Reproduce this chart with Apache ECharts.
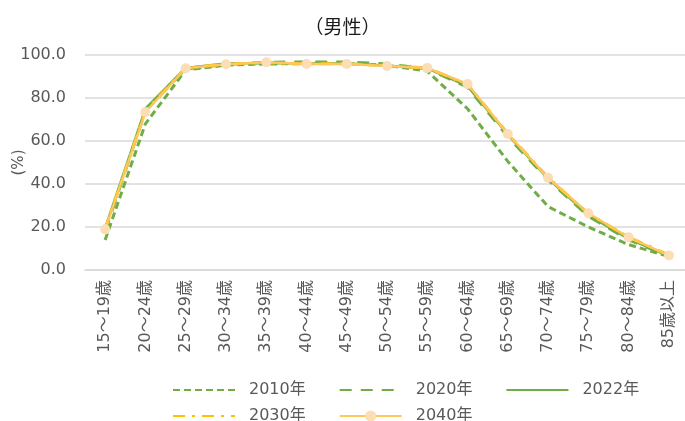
<!DOCTYPE html>
<html>
<head>
<meta charset="utf-8">
<script src="https://cdn.jsdelivr.net/npm/echarts@6/dist/echarts.min.js"></script>
<style>
  html, body { margin: 0; padding: 0; background: #fff; }
  #chart { width: 685px; height: 421px; }
</style>
</head>
<body>
<div id="chart"></div>
<script>
// Age groups (male labour force participation rate, %)
const ageGroups = ['15～19歳', '20～24歳', '25～29歳', '30～34歳', '35～39歳', '40～44歳', '45～49歳',
  '50～54歳', '55～59歳', '60～64歳', '65～69歳', '70～74歳', '75～79歳', '80～84歳', '85歳以上'];

const rate2010 = [14.0, 68.0, 93.0, 95.3, 95.8, 96.0, 96.0, 95.2, 92.5, 75.0, 50.5, 29.5, 20.0, 11.8, 6.3];
const rate2020 = [18.0, 74.0, 93.5, 95.6, 96.6, 96.8, 96.8, 95.8, 93.6, 85.0, 62.0, 42.0, 25.0, 14.0, 6.5];
const rate2022 = [19.5, 75.0, 94.0, 96.0, 96.3, 96.1, 96.0, 95.0, 93.8, 85.5, 63.0, 42.5, 25.5, 14.5, 6.5];
const rate2030 = [19.0, 74.0, 94.0, 95.8, 96.4, 95.9, 95.9, 95.0, 94.0, 86.3, 63.5, 43.0, 26.2, 15.3, 7.0];
const rate2040 = [18.9, 73.5, 93.8, 95.7, 96.6, 95.8, 95.8, 94.9, 94.0, 86.5, 63.3, 42.9, 26.4, 15.2, 6.8];

const legendRow1 = ['2010年', '2020年', '2022年'];
const legendRow2 = ['2030年', '2040年'];
// series drawn with markers in the legend
const markedSeries = ['2040年'];

const yTicks = { min: 0, max: 100, interval: 20 };

const font = '"DejaVu Sans", "Noto Sans CJK JP", sans-serif';
const cjkFont = '"Noto Sans CJK JP", sans-serif';
const green = '#70AD47';
const gold = '#FFC000';
const lightGold = '#FFC75A';
const peach = '#FCDDB4';
const grey = '#595959';

function lineSeries(name, data, color, type, width, extra) {
  return Object.assign({
    name: name,
    type: 'line',
    data: data,
    symbol: 'none',
    smooth: false,
    lineStyle: { color: color, width: width, type: type, cap: 'butt' },
    itemStyle: { color: color },
    emphasis: { disabled: true }
  }, extra || {});
}

function legendRow(names, top) {
  return {
    left: 167,
    top: top,
    orient: 'horizontal',
    itemWidth: 62,
    itemHeight: 14,
    itemGap: 33,
    selectedMode: false,
    textStyle: { fontFamily: font, fontSize: 16, color: grey, padding: [0, 0, 0, 9] },
    // plain line icons, marker only where the series has one
    data: names.map(n => markedSeries.includes(n)
      ? { name: n }
      : { name: n, itemStyle: { opacity: 0 } })
  };
}

const chart = echarts.init(document.getElementById('chart'), null, { renderer: 'canvas' });

chart.setOption({
  animation: false,
  backgroundColor: '#ffffff',
  textStyle: { fontFamily: font },
  title: {
    text: '（男性）',
    left: 'center',
    top: 12,
    textStyle: { fontFamily: cjkFont, fontSize: 19, fontWeight: 'normal', color: '#1a1a1a' }
  },
  grid: { left: 85, right: -4, top: 55, bottom: 151, containLabel: false, outerBoundsMode: 'none' },
  legend: [legendRow(legendRow1, 377), legendRow(legendRow2, 403)],
  xAxis: {
    type: 'category',
    data: ageGroups,
    boundaryGap: true,
    axisLine: { show: true, lineStyle: { color: '#D9D9D9', width: 1.5 } },
    axisTick: { show: false },
    axisLabel: {
      rotate: 90,
      margin: 10,
      fontFamily: font,
      fontSize: 16,
      color: grey,
      interval: 0
    }
  },
  yAxis: {
    type: 'value',
    min: yTicks.min,
    max: yTicks.max,
    interval: yTicks.interval,
    name: '(%)',
    nameLocation: 'middle',
    nameRotate: 90,
    nameGap: 58,
    nameMoveOverlap: false,
    nameTextStyle: { fontFamily: font, fontSize: 15, color: grey },
    axisLine: { show: false },
    axisTick: { show: false },
    axisLabel: {
      fontFamily: font,
      fontSize: 16,
      color: grey,
      margin: 19,
      formatter: v => v.toFixed(1)
    },
    splitLine: { lineStyle: { color: '#D9D9D9', width: 1.5 } }
  },
  series: [
    lineSeries('2010年', rate2010, green, [7, 4], 3),
    lineSeries('2020年', rate2020, green, [12, 9], 3),
    lineSeries('2022年', rate2022, green, 'solid', 2.5),
    lineSeries('2030年', rate2030, gold, [12, 7, 3, 7], 3),
    lineSeries('2040年', rate2040, lightGold, 'solid', 2.5, {
      symbol: 'circle',
      symbolSize: 10,
      showSymbol: true,
      itemStyle: { color: peach, borderWidth: 0 }
    })
  ]
});
</script>
</body>
</html>
